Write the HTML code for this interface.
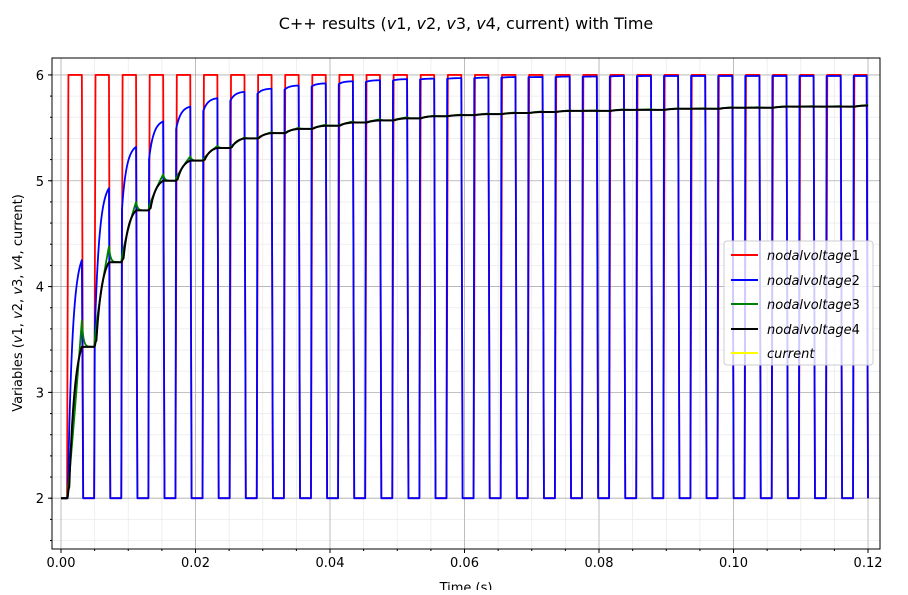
<!DOCTYPE html>
<html><head><meta charset="utf-8"><style>
body{margin:0;background:#fff;}
svg text{font-family:"DejaVu Sans","Liberation Sans",sans-serif;}
</style></head><body>
<svg id="chart" width="908" height="590" xmlns="http://www.w3.org/2000/svg">
<rect width="908" height="590" fill="#fff"/>
<text x="466" y="29" font-size="16" text-anchor="middle">C++ results (<tspan font-style="italic">v</tspan>1, <tspan font-style="italic">v</tspan>2, <tspan font-style="italic">v</tspan>3, <tspan font-style="italic">v</tspan>4, current) with Time</text>
<g id="grid"></g>
<g id="series"></g>
<rect x="52" y="58" width="828" height="491" fill="none" stroke="#000" stroke-width="1"/>
<g id="ticks"></g>
<text x="466" y="592" font-size="13" text-anchor="middle">Time (s)</text>
<text transform="translate(22,303) rotate(-90)" font-size="13" text-anchor="middle">Variables (<tspan font-style="italic">v</tspan>1, <tspan font-style="italic">v</tspan>2, <tspan font-style="italic">v</tspan>3, <tspan font-style="italic">v</tspan>4, current)</text>
<g>
<rect x="724" y="241" width="149" height="124" rx="3" fill="#fff" fill-opacity="0.8" stroke="#ccc"/>
<g><line x1="731" y1="255" x2="758" y2="255" stroke="red" stroke-width="2"/><text x="767" y="260" font-size="13" font-style="italic">nodalvoltage<tspan font-style="normal">1</tspan></text></g>
<g><line x1="731" y1="280" x2="758" y2="280" stroke="blue" stroke-width="2"/><text x="767" y="285" font-size="13" font-style="italic">nodalvoltage<tspan font-style="normal">2</tspan></text></g>
<g><line x1="731" y1="304" x2="758" y2="304" stroke="green" stroke-width="2"/><text x="767" y="309" font-size="13" font-style="italic">nodalvoltage<tspan font-style="normal">3</tspan></text></g>
<g><line x1="731" y1="329" x2="758" y2="329" stroke="black" stroke-width="2"/><text x="767" y="334" font-size="13" font-style="italic">nodalvoltage<tspan font-style="normal">4</tspan></text></g>
<g><line x1="731" y1="353" x2="758" y2="353" stroke="yellow" stroke-width="2"/><text x="767" y="358" font-size="13" font-style="italic">current</text></g>
</g>
</svg>
<script>
const xTicks=[0,0.02,0.04,0.06,0.08,0.1,0.12];
const xTickLabels=["0.00","0.02","0.04","0.06","0.08","0.10","0.12"];
const yTicks=[2,3,4,5,6];
const yTickLabels=["2","3","4","5","6"];
const pulseStart=0.0009, pulsePeriod=0.00403, pulseHigh=0.0022, edge=0.0002, tEnd=0.12;
const vLow=[2], vHigh=[6];
const bluePeaks=[4.25,4.93,5.32,5.56,5.70,5.78,5.84,5.87,5.90,5.92,5.94,5.95,5.96,5.965,5.97,5.975,5.98,5.98,5.985,5.985,5.99,5.99,5.99,5.99,5.99,5.99,5.99,5.99,5.99,5.99];
const blackPlateaus=[3.43,4.23,4.72,5.00,5.19,5.31,5.40,5.45,5.49,5.52,5.55,5.57,5.59,5.61,5.62,5.63,5.64,5.65,5.66,5.66,5.67,5.67,5.68,5.68,5.69,5.69,5.70,5.70,5.70,5.71];
const greenPeaks=[3.68,4.38,4.80,5.06,5.23,5.33,5.41,5.46,5.50,5.53,5.56,5.58,5.60,5.615,5.625,5.635,5.645,5.655,5.665,5.665,5.675,5.675,5.685,5.685,5.695,5.695,5.705,5.705,5.705,5.715];

const X0=52,X1=880,Y0=58,Y1=549;
const xmin=-0.001338,xmax=0.12178,ymin=1.52,ymax=6.16;
const sx=t=>X0+(t-xmin)/(xmax-xmin)*(X1-X0);
const sy=v=>Y1-(v-ymin)/(ymax-ymin)*(Y1-Y0);
const NS="http://www.w3.org/2000/svg";
function mk(tag,attrs,parent){const e=document.createElementNS(NS,tag);for(const k in attrs)e.setAttribute(k,attrs[k]);parent.appendChild(e);return e;}
const grid=document.getElementById('grid'),ticks=document.getElementById('ticks'),ser=document.getElementById('series');
for(let t=0;t<=0.1201;t+=0.005){const x=sx(t);const l=mk('line',{x1:x,x2:x,y1:Y0,y2:Y1,stroke:'#ebebeb','stroke-width':0.8},grid);

const tk=mk('line',{x1:x,x2:x,y1:Y1,y2:Y1+2,stroke:'#000'},ticks);}
for(let v=1.6;v<=6.11;v+=0.2){const y=sy(v);const l=mk('line',{x1:X0,x2:X1,y1:y,y2:y,stroke:'#ebebeb','stroke-width':0.8},grid);

const tk=mk('line',{x1:X0-2,x2:X0,y1:y,y2:y,stroke:'#000'},ticks);}
xTicks.forEach((t,i)=>{const x=sx(t);const l=mk('line',{x1:x,x2:x,y1:Y0,y2:Y1,stroke:'#b0b0b0','stroke-width':0.8},grid);

const tk=mk('line',{x1:x,x2:x,y1:Y1,y2:Y1+4,stroke:'#000'},ticks);
const tx=mk('text',{x:x,y:Y1+18,'font-size':13,'text-anchor':'middle'},ticks);tx.textContent=xTickLabels[i];
});
yTicks.forEach((v,i)=>{const y=sy(v);const l=mk('line',{x1:X0,x2:X1,y1:y,y2:y,stroke:'#b0b0b0','stroke-width':0.8},grid);

const tk=mk('line',{x1:X0-4,x2:X0,y1:y,y2:y,stroke:'#000'},ticks);
const tx=mk('text',{x:X0-8,y:y+5,'font-size':13,'text-anchor':'end'},ticks);tx.textContent=yTickLabels[i];
});

const N=bluePeaks.length, lo=vLow[0], hi=vHigh[0];
let p1=[],p2=[],p3=[],p4=[];
const P=(a,t,v)=>{if(t<=tEnd+1e-9)a.push(sx(t).toFixed(2)+','+sy(v).toFixed(2));};
[p1,p2,p3,p4].forEach(a=>P(a,0,lo));
let prevBlack=lo, prevBlue=lo;
for(let k=0;k<N;k++){
  const ts=pulseStart+k*pulsePeriod, te=Math.min(ts+pulseHigh,tEnd-0.0002), tn=ts+pulsePeriod;
  P(p1,ts,lo);P(p1,ts+edge,hi);P(p1,te,hi);P(p1,te+edge,lo);
  P(p2,ts,lo);
  const bStart=k===0?lo:prevBlue-0.3*(prevBlue-(k>1?bluePeaks[k-2]:lo));
  for(let j=0;j<=20;j++){const f=j/20;const s=(1-Math.exp(-3*f))/(1-Math.exp(-3));P(p2,ts+edge*0.5+f*(te-ts-edge*0.5),bStart+(bluePeaks[k]-bStart)*s);}
  P(p2,te+edge,lo);
  const bl=blackPlateaus[k], gp=greenPeaks[k];
  for(let j=0;j<=20;j++){const f=j/20;const t=ts+f*(te-ts);
    const sb=f<0.15?0.5*(f/0.15)*(f/0.15)*0.15/0.575:(0.075+(1-Math.exp(-2.2*(f-0.15)/0.85))/(1-Math.exp(-2.2))*0.925);
    P(p4,t,prevBlack+(bl-prevBlack)*Math.min(sb,1));
    const sg=k===0?Math.pow(f,1.1):Math.pow(f,0.8);
    P(p3,t,prevBlack+(gp-prevBlack)*sg);}
  for(let j=1;j<=8;j++){const f=j/8;P(p3,te+f*0.0009,bl+(gp-bl)*Math.exp(-4*f));}
  P(p3,Math.min(tn,tEnd),bl);P(p4,Math.min(tn,tEnd),bl);
  prevBlack=bl; prevBlue=bluePeaks[k];
  if(tn<tEnd){P(p1,tn,lo);P(p2,tn,lo);}
}
const defs=[['v1-line',p1,'red',1.8],['v2-line',p2,'blue',1.8],['v3-line',p3,'green',1.8],['v4-line',p4,'black',2]];
defs.forEach(d=>{const e=mk('polyline',{points:d[1].join(' '),fill:'none',stroke:d[2],'stroke-width':d[3],'stroke-linejoin':'round'},ser);
});
</script>
</body></html>
